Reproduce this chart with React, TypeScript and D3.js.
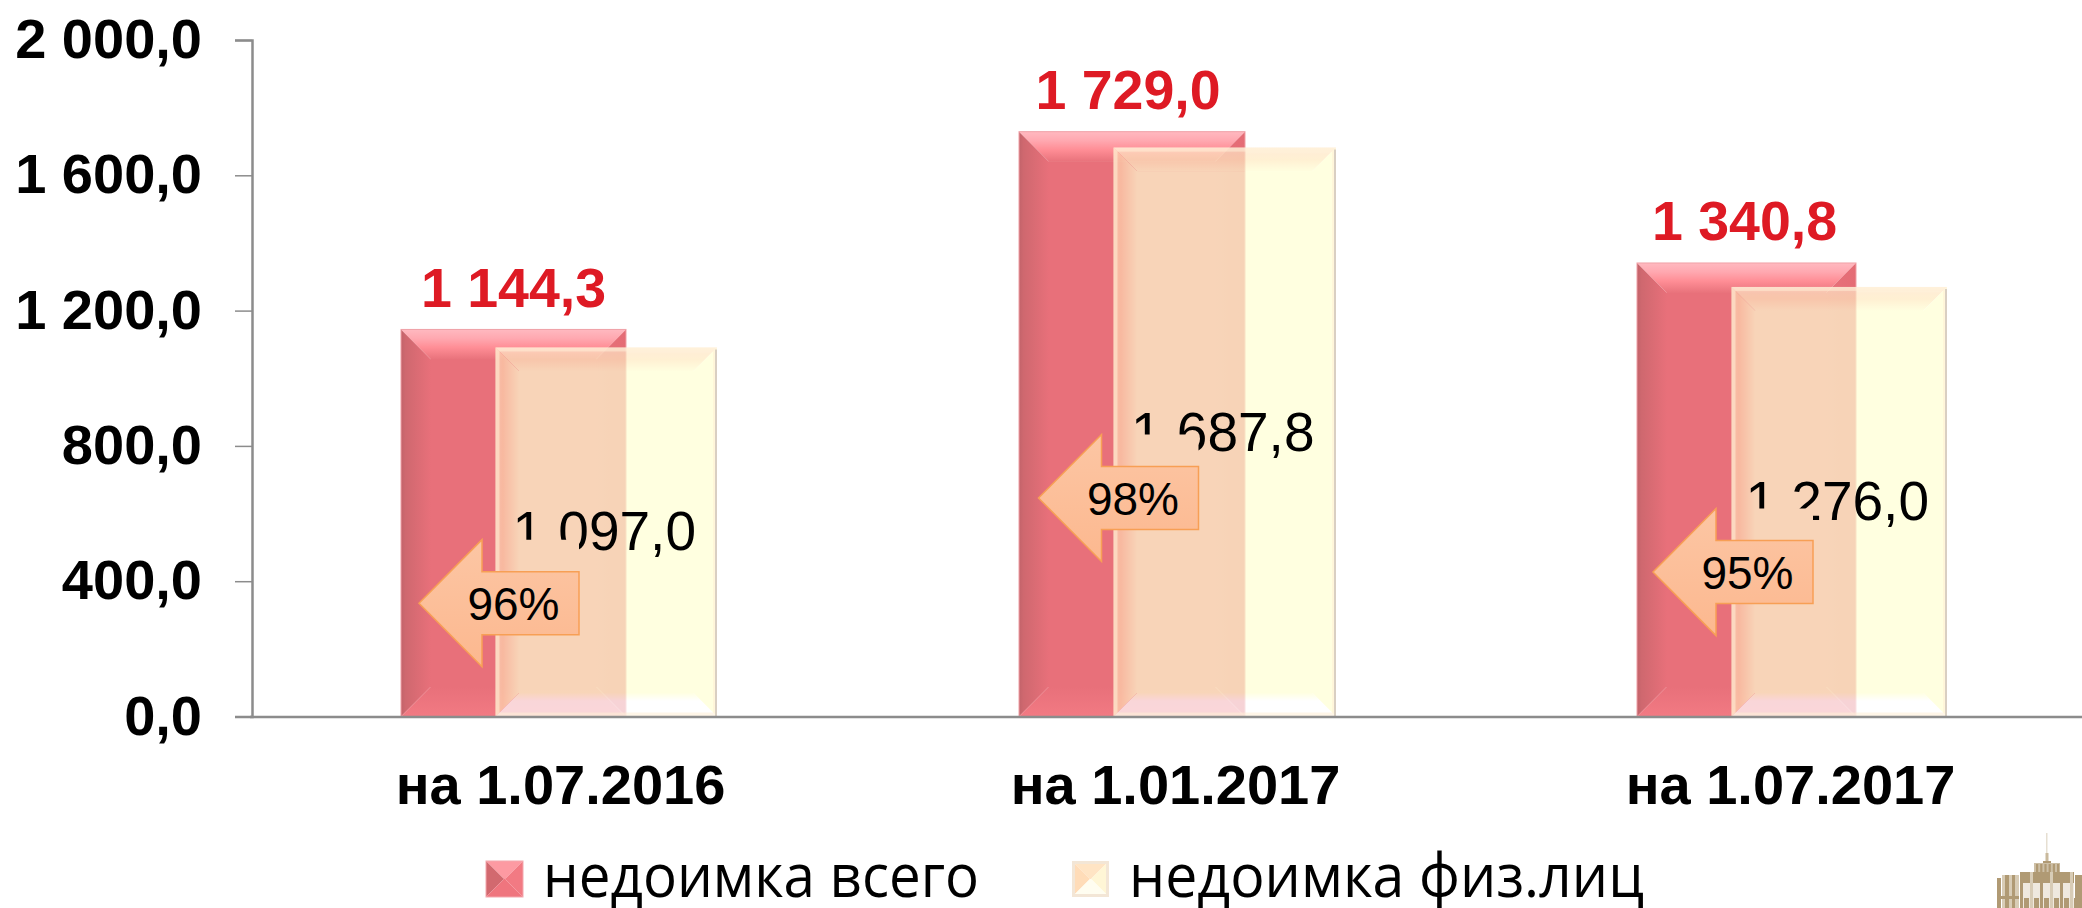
import React, { useEffect, useRef } from "react";
import * as d3 from "d3";

const categories = ["на 1.07.2016", "на 1.01.2017", "на 1.07.2017"];
const totalArrears = [1144.3, 1729.0, 1340.8];
const personArrears = [1097.0, 1687.8, 1276.0];
const shares = ["96%", "98%", "95%"];
// level of the arrow's middle, in axis units
const arrowLevels = [335, 646, 427];
const yTicks = [0, 400, 800, 1200, 1600, 2000];
const legendLabels = ["недоимка всего", "недоимка физ.лиц"];

const WIDTH = 2082;
const HEIGHT = 908;
const SANS = "'Liberation Sans', Arial, sans-serif";

const ruFormat = d3.formatLocale({
  decimal: ",",
  thousands: " ",
  grouping: [3],
  currency: ["", ""],
}).format(",.1f");

type Sel = d3.Selection<any, unknown, null, undefined>;

const addGradient = (
  defs: Sel,
  id: string,
  dir: "h" | "v",
  stops: [number, string][]
) => {
  const g = defs.append("linearGradient").attr("id", id)
    .attr("x1", 0).attr("y1", 0)
    .attr("x2", dir === "h" ? 1 : 0).attr("y2", dir === "h" ? 0 : 1);
  stops.forEach(([o, c]) => {
    g.append("stop").attr("offset", o).attr("stop-color", c);
  });
};

// bar with four bevel trapezoids round a flat middle
const bevelBar = (
  g: Sel,
  x: number,
  y: number,
  w: number,
  h: number,
  b: number,
  fills: { mid: string; top: string; left: string; right: string; bottom: string }
) => {
  const x1 = x + w;
  const y1 = y + h;
  const face = (pts: number[][], fill: string) =>
    g.append("polygon").attr("points", pts.map(p => p.join(",")).join(" ")).attr("fill", fill);
  g.append("rect").attr("x", x + b - 0.5).attr("y", y + b - 0.5)
    .attr("width", Math.max(w - 2 * b + 1, 0)).attr("height", Math.max(h - 2 * b + 1, 0)).attr("fill", fills.mid);
  face([[x, y], [x1, y], [x1 - b, y + b], [x + b, y + b]], fills.top);
  face([[x, y], [x + b, y + b], [x + b, y1 - b], [x, y1]], fills.left);
  face([[x1, y], [x1, y1], [x1 - b, y1 - b], [x1 - b, y + b]], fills.right);
  face([[x, y1], [x + b, y1 - b], [x1 - b, y1 - b], [x1, y1]], fills.bottom);
};

const redFills = {
  mid: "#e8707a",
  top: "url(#redTop)",
  left: "url(#redLeft)",
  right: "url(#redRight)",
  bottom: "url(#redBottom)",
};
const paleFills = {
  mid: "#ffffd3",
  top: "url(#paleTop)",
  left: "url(#paleLeft)",
  right: "#ffffd3",
  bottom: "url(#paleBottom)",
};

const drawLogo = (svg: Sel) => {
  const c = "#b09a74";
  const g = svg.append("g").attr("fill", c);
  g.append("rect").attr("x", 2046).attr("y", 833).attr("width", 1.5).attr("height", 20).attr("fill", "#e6dfd2");
  g.append("rect").attr("x", 2045.5).attr("y", 853).attr("width", 3).attr("height", 12).attr("fill", "#c9b99c");
  g.append("rect").attr("x", 2043).attr("y", 861).attr("width", 8).attr("height", 4);
  g.append("rect").attr("x", 2034).attr("y", 863).attr("width", 26).attr("height", 9).attr("fill", "#cdbfa6");
  d3.range(6).forEach(i => {
    g.append("rect").attr("x", 2036 + i * 4.2).attr("y", 864).attr("width", 2.2).attr("height", 8);
  });
  g.append("rect").attr("x", 2020).attr("y", 872).attr("width", 54).attr("height", 11);
  g.append("rect").attr("x", 2020).attr("y", 883).attr("width", 54).attr("height", 25).attr("fill", "#efe9df");
  d3.range(6).forEach(i => {
    g.append("rect").attr("x", 2020 + i * 10).attr("y", 872).attr("width", 3).attr("height", 36).attr("fill", i % 2 ? "#d8ccb6" : c);
    g.append("rect").attr("x", 2024 + i * 10).attr("y", 898).attr("width", 5).attr("height", 10);
  });
  g.append("rect").attr("x", 1997).attr("y", 878).attr("width", 4).attr("height", 30);
  g.append("rect").attr("x", 2002).attr("y", 875).attr("width", 17).attr("height", 33).attr("fill", "#d8ccb6");
  g.append("rect").attr("x", 2005).attr("y", 875).attr("width", 4).attr("height", 33);
  g.append("rect").attr("x", 2012).attr("y", 875).attr("width", 3).attr("height", 33);
  g.append("rect").attr("x", 2075).attr("y", 875).attr("width", 7).attr("height", 33);
  g.append("rect").attr("x", 1997).attr("y", 896).attr("width", 22).attr("height", 3);
  g.append("rect").attr("x", 2075).attr("y", 896).attr("width", 7).attr("height", 3);
};

const App = () => {
  const svgRef = useRef<SVGSVGElement>(null);

  useEffect(() => {
    document.body.style.margin = "0";
    const svg = d3.select(svgRef.current) as unknown as Sel;
    svg.selectAll("*").remove();

    const x = d3.scaleBand<string>().domain(categories).range([249.5, 2103.5]);
    const y = d3.scaleLinear().domain([0, 2000]).range([716.5, 40]);
    const baseY = y(0);

    // bar widths drift slightly between the groups in the picture
    const barWidths = [225, 226, 219];
    const barLeft = (i: number) => (x(categories[i]) as number) + x.bandwidth() / 2 - 157.5;
    const paleOffset = 94.5;
    const paleWidth = (i: number) => barWidths[i] - 3.5;

    const defs = svg.append("defs");
    addGradient(defs, "redTop", "v", [[0, "#ffb9c0"], [0.3, "#ffa8b0"], [0.6, "#ff8e96"], [1, "#e8727b"]]);
    addGradient(defs, "redLeft", "h", [[0, "#c2636a"], [0.15, "#cf686f"], [1, "#e8707a"]]);
    addGradient(defs, "redRight", "h", [[0, "#e8707a"], [1, "#e46c75"]]);
    addGradient(defs, "redBottom", "v", [[0, "#e8707a"], [1, "#f27a83"]]);
    addGradient(defs, "paleTop", "v", [[0, "#fff0d8"], [0.25, "#ffe8c4"], [0.5, "#ffeac0"], [1, "#ffffd3"]]);
    addGradient(defs, "paleLeft", "h", [[0, "#ffe0c0"], [0.3, "#ffd8b0"], [1, "#ffffd3"]]);
    addGradient(defs, "paleBottom", "v", [[0, "#ffffd3"], [0.35, "#ffffff"], [1, "#ffffff"]]);
    addGradient(defs, "arrowFill", "v", [[0, "#fcc6a4"], [1, "#fcb88f"]]);

    // axes
    const axisColor = "#8c8c8c";
    const yAxis = svg.append("g").attr("transform", "translate(252,0)")
      .call(d3.axisLeft(y).tickValues(yTicks).tickSize(17).tickPadding(33).tickFormat(d => ruFormat(d as number)) as any);
    yAxis.select(".domain").attr("stroke", axisColor).attr("stroke-width", 2.5);
    yAxis.selectAll(".tick line").attr("stroke", axisColor).attr("stroke-width", 1.5);
    yAxis.selectAll("text")
      .attr("font-family", SANS).attr("font-size", 56).attr("font-weight", 700).attr("fill", "#000")
      .attr("dy", 17.5);

    // red bars
    totalArrears.forEach((v, i) => {
      const top = y(v);
      const g = svg.append("g");
      bevelBar(g, barLeft(i), top, barWidths[i], baseY - top, 30, redFills);
      g.append("rect").attr("x", barLeft(i)).attr("y", top).attr("width", barWidths[i]).attr("height", baseY - top)
        .attr("fill", "none").attr("stroke", "#f0a0a6").attr("stroke-width", 1);
    });

    // pale bars, see-through over the red ones
    personArrears.forEach((v, i) => {
      const top = y(v) + 2;
      const left = barLeft(i) + paleOffset;
      const w = paleWidth(i);
      const g = svg.append("g").attr("opacity", 0.7);
      bevelBar(g, left, top, w, baseY - top, 24, paleFills);
      const frame = svg.append("g").attr("fill", "none");
      frame.append("rect").attr("x", left + 2).attr("y", top + 2).attr("width", w - 4).attr("height", baseY - top - 4)
        .attr("stroke", "#ffeed6").attr("stroke-opacity", 0.55).attr("stroke-width", 4);
      frame.append("line").attr("x1", left + w - 1).attr("x2", left + w - 1).attr("y1", top + 2).attr("y2", baseY)
        .attr("stroke", "#d9cfc2").attr("stroke-width", 2);
    });

    // x axis on top of the bar feet
    const catNudge = [2, -1, -4];
    const xAxis = svg.append("g").attr("transform", `translate(0,${baseY})`)
      .call(d3.axisBottom(x).tickSize(0).tickPadding(87) as any);
    xAxis.select(".domain").attr("stroke", axisColor).attr("stroke-width", 2.5);
    xAxis.selectAll("text")
      .attr("font-family", SANS).attr("font-size", 56).attr("font-weight", 700).attr("fill", "#000")
      .attr("dx", (_: unknown, i: number) => catNudge[i]).attr("dy", 0);

    // red value labels
    const labelNudge = [0, -4, -2];
    svg.append("g").selectAll("text").data(totalArrears).enter().append("text")
      .attr("x", (_, i) => barLeft(i) + barWidths[i] / 2 + labelNudge[i])
      .attr("y", d => y(d) - 22.5)
      .attr("text-anchor", "middle")
      .attr("font-family", SANS).attr("font-size", 55.5).attr("font-weight", 700)
      .attr("fill", "#de1a24")
      .text(d => ruFormat(d));

    // arrow geometry, the black labels get hidden inside the arrow's box
    const tipOffsets = [18, 19.5, 16];
    const arrowTip = (i: number) => barLeft(i) + tipOffsets[i];
    const arrowLen = 160;
    const headLen = 63;
    const headHalf = 63.5;
    const shaftHalf = 31.5;

    personArrears.forEach((v, i) => {
      const cy = y(arrowLevels[i]);
      const tip = arrowTip(i);
      const clipId = `hide${i}`;
      defs.append("clipPath").attr("id", clipId).append("path")
        .attr("clip-rule", "evenodd")
        .attr("d", `M0 0H${WIDTH}V${HEIGHT}H0Z M${tip} ${cy - headHalf}H${tip + arrowLen}V${cy + headHalf}H${tip}Z`);
      svg.append("text")
        .attr("x", barLeft(i) + paleOffset + paleWidth(i) / 2 - 2)
        .attr("y", (y(v) + baseY) / 2 + 19.5)
        .attr("text-anchor", "middle")
        .attr("clip-path", `url(#${clipId})`)
        .attr("font-family", SANS).attr("font-size", 55)
        .attr("fill", "#000")
        .text(ruFormat(v));

      const arrow = d3.path();
      arrow.moveTo(tip, cy);
      arrow.lineTo(tip + headLen, cy - headHalf);
      arrow.lineTo(tip + headLen, cy - shaftHalf);
      arrow.lineTo(tip + arrowLen, cy - shaftHalf);
      arrow.lineTo(tip + arrowLen, cy + shaftHalf);
      arrow.lineTo(tip + headLen, cy + shaftHalf);
      arrow.lineTo(tip + headLen, cy + headHalf);
      arrow.closePath();
      svg.append("path").attr("d", arrow.toString())
        .attr("fill", "url(#arrowFill)").attr("stroke", "#f79f55").attr("stroke-width", 1.5);

      svg.append("text")
        .attr("x", tip + 94.5).attr("y", cy + 17)
        .attr("text-anchor", "middle")
        .attr("font-family", SANS).attr("font-size", 46)
        .attr("fill", "#000")
        .text(shares[i]);
    });

    // legend
    const legendX = [486, 1072];
    const legendLengths = [436, 515];
    const legendFills = [
      { mid: "#f27a83", top: "#fd9aa2", left: "#d2696f", right: "#f27a83", bottom: "#ef757e" },
      { mid: "#ffeccf", top: "#ffe4c4", left: "#ffdcb8", right: "#fff6d6", bottom: "#fffdf0" },
    ];
    legendLabels.forEach((label, i) => {
      const g = svg.append("g");
      if (i === 0) {
        bevelBar(g, legendX[i], 861, 37, 36, 18, legendFills[i]);
        g.append("rect").attr("x", legendX[i]).attr("y", 861).attr("width", 37).attr("height", 36)
          .attr("fill", "none").attr("stroke", "#f4a8ae").attr("stroke-width", 1);
      } else {
        bevelBar(g, legendX[i] + 3, 864, 31, 30, 15, legendFills[i]);
        g.append("rect").attr("x", legendX[i] + 1.5).attr("y", 862.5).attr("width", 34).attr("height", 33)
          .attr("fill", "none").attr("stroke", "#f3e6d6").attr("stroke-width", 3);
      }
      g.append("text")
        .attr("x", legendX[i] + 57).attr("y", 897)
        .attr("font-family", "'Open Sans', sans-serif").attr("font-size", 60)
        .attr("textLength", legendLengths[i]).attr("lengthAdjust", "spacingAndGlyphs")
        .attr("fill", "#000")
        .text(label);
    });

    drawLogo(svg);
  }, []);

  return (
    <svg
      ref={svgRef}
      width={WIDTH}
      height={HEIGHT}
      style={{ display: "block", position: "absolute", left: 0, top: 0, background: "#fff" }}
    />
  );
};

export default App;
